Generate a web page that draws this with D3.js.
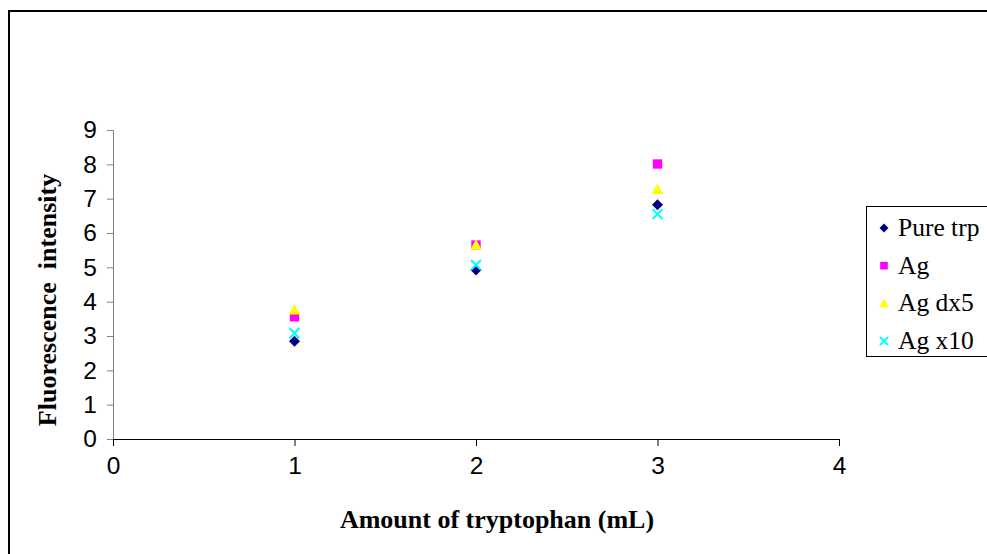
<!DOCTYPE html>
<html><head><meta charset="utf-8">
<script src="https://cdn.jsdelivr.net/npm/d3@7"></script>
<style>body{margin:0;background:#fff}svg{display:block}</style>
</head><body>
<svg id="c" width="987" height="554"></svg>
<script>
const xValues = [1, 2, 3];
const seriesNames = ["Pure trp", "Ag", "Ag dx5", "Ag x10"];
const pureTrp = [2.85, 4.92, 6.82];
const ag = [3.56, 5.65, 8.01];
const agDx5 = [3.76, 5.65, 7.27];
const agX10 = [3.08, 5.07, 6.55];
const xTicks = [0, 1, 2, 3, 4];
const yTicks = [0, 1, 2, 3, 4, 5, 6, 7, 8, 9];

const series = [
  {name: seriesNames[0], values: pureTrp, color: "#000080", shape: "diamond"},
  {name: seriesNames[1], values: ag, color: "#ff00ff", shape: "square"},
  {name: seriesNames[2], values: agDx5, color: "#ffff00", shape: "triangle"},
  {name: seriesNames[3], values: agX10, color: "#00ffff", shape: "cross"}
];

const tickFont = "'Liberation Sans Narrow', 'Arial Narrow', 'Liberation Sans', Arial, sans-serif";
const serifFont = "'Liberation Serif', 'Times New Roman', serif";

const svg = d3.select("#c");
// outer frame
svg.append("rect").attr("x", 9).attr("y", 11).attr("width", 1000).attr("height", 600)
  .attr("fill", "#fff").attr("stroke", "#000").attr("stroke-width", 2);

const x = d3.scaleLinear().domain([0, 4]).range([113, 839]);
const y = d3.scaleLinear().domain([0, 9]).range([439, 130]);

// y axis
const gy = svg.append("g").attr("transform", "translate(113,0)")
  .call(d3.axisLeft(y).tickValues(yTicks).tickSize(6).tickPadding(10).tickFormat(d3.format("d")));
gy.select(".domain").attr("stroke", "#808080").attr("d", "M-6,130.5H0.5V439");
gy.selectAll(".tick line").attr("stroke", "#808080");
gy.selectAll("text").attr("font-family", tickFont).attr("font-size", 24.5).attr("fill", "#000");

// x axis
const gx = svg.append("g").attr("transform", "translate(0,439)")
  .call(d3.axisBottom(x).tickValues(xTicks).tickSize(7).tickPadding(11).tickFormat(d3.format("d")));
gx.select(".domain").attr("stroke", "#000").attr("d", "M113,0.5H839.5V7");
gx.selectAll(".tick line").attr("stroke", "#000");
gx.selectAll("text").attr("font-family", tickFont).attr("font-size", 24.5).attr("fill", "#000");

// axis titles
svg.append("text").attr("x", 497).attr("y", 528).attr("text-anchor", "middle")
  .attr("font-family", serifFont).attr("font-weight", "bold")
  .attr("font-size", 26).text("Amount of tryptophan (mL)");
svg.append("text").attr("transform", "translate(56,300) rotate(-90)").attr("text-anchor", "middle")
  .attr("font-family", serifFont).attr("font-weight", "bold")
  .attr("font-size", 26).attr("xml:space", "preserve").style("white-space", "pre")
  .text("Fluorescence  intensity");

function drawMarker(g, shape, color, cx, cy, s) {
  if (shape === "diamond") {
    g.append("path").attr("d", `M${cx},${cy - s}L${cx + s},${cy}L${cx},${cy + s}L${cx - s},${cy}Z`).attr("fill", color);
  } else if (shape === "square") {
    g.append("rect").attr("x", cx - s * 0.85).attr("y", cy - s * 0.85).attr("width", s * 1.7).attr("height", s * 1.7).attr("fill", color);
  } else if (shape === "triangle") {
    g.append("path").attr("d", `M${cx},${cy - s * 1.05}L${cx + s * 1.05},${cy + s * 0.85}L${cx - s * 1.05},${cy + s * 0.85}Z`).attr("fill", color);
  } else {
    const r = s * 0.9;
    g.append("path").attr("d", `M${cx - r},${cy - r}L${cx + r},${cy + r}M${cx - r},${cy + r}L${cx + r},${cy - r}`)
      .attr("stroke", color).attr("stroke-width", 2).attr("fill", "none");
  }
}

const pts = svg.append("g");
series.forEach(s => {
  s.values.forEach((v, i) => drawMarker(pts, s.shape, s.color, x(xValues[i]), y(v), 5.5));
});

// legend
const lg = svg.append("g");
lg.append("rect").attr("x", 866.5).attr("y", 206.5).attr("width", 130).attr("height", 150)
  .attr("fill", "#fff").attr("stroke", "#000").attr("stroke-width", 1);
series.forEach((s, i) => {
  const cy = 228 + i * 37.7;
  drawMarker(lg, s.shape, s.color, 884, cy, 4.5);
  lg.append("text").attr("x", 898).attr("y", cy + 8)
    .attr("font-family", serifFont).attr("font-size", 25.5)
    .attr("fill", "#000").text(s.name);
});
</script>
</body></html>
